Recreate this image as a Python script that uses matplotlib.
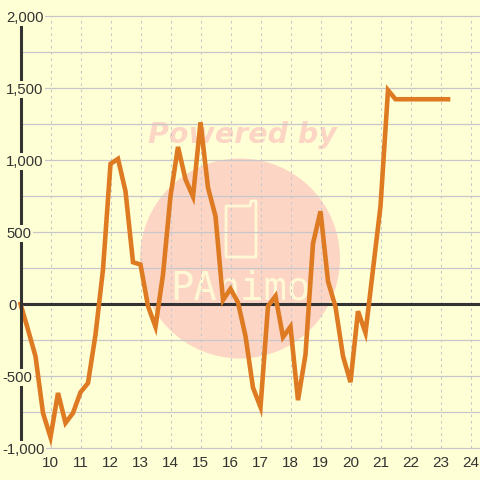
# IMPORTS
import numpy as np
import matplotlib
matplotlib.use('Agg')
import matplotlib.pyplot as plt
from matplotlib.patches import Circle, Polygon
from matplotlib.transforms import blended_transform_factory

# DATA
hours = [9 + 0.25 * i for i in range(58)]
values = [0, -178, -363, -757, -925, -618, -826, -757, -613, -549, -213, 240,
          973, 1008, 783, 290, 274, -15, -158, 205, 749, 1091, 865, 746,
          1262, 808, 610, 27, 105, 10, -223, -581, -716, -15, 55, -230,
          -158, -668, -351, 420, 644, 158, -20, -362, -543, -50, -200, 240,
          679, 1485, 1422, 1422, 1422, 1422, 1422, 1422, 1422, 1422]
x_ticks = list(range(10, 25))
y_major = [-1000, -500, 0, 500, 1000, 1500, 2000]
y_labels = ['-1,000', '-500', '0', '500', '1,000', '1,500', '2,000']
y_label_left = [2, 2, 8, 6, 6, 6, 6]  # px from the left edge
y_minor = [-750, -250, 250, 750, 1250, 1750]

# COLOURS
bg = '#ffffd5'
grid_col = '#c6c6cb'
dark = '#333333'
line_col = '#dd7a22'
wm_col = '#fcd5c5'
wm_light = '#fff8d4'
W = 480


def px(x, y):
    # pixel position in the picture to figure fraction
    return x / W, 1 - y / W


plt.rcParams['font.family'] = ['Liberation Sans', 'DejaVu Sans']
fig = plt.figure(figsize=(4.8, 4.8), dpi=100, facecolor=bg)
ax = fig.add_axes([20.5 / W, 32 / W, (W - 20.5) / W, 432 / W], facecolor=bg)

# Watermark
ft = fig.transFigure
ax.add_patch(Circle(px(240, 258.5), 100 / W, transform=ft, fc=wm_col, ec='none',
                    zorder=0.2, clip_on=False))
ax.text(*px(242, 135), 'Powered by', transform=ft, ha='center', va='center',
        family='DejaVu Sans', weight='bold', style='italic', fontsize=20.5,
        color=wm_col, zorder=0.2)
phone = [px(226, 206), px(250, 206), px(251, 201), px(256, 201), px(256, 257),
         px(226, 257)]
ax.add_patch(Polygon(phone, closed=True, transform=ft, fc='none', ec=wm_light,
                     lw=2, joinstyle='round', zorder=0.3, clip_on=False))
ax.text(*px(240, 289), 'PAnimo', transform=ft, ha='center', va='center',
        family='DejaVu Sans Mono', fontsize=28, color=wm_light, zorder=0.3)

# Grid
ax.set_xlim(9, 9 + (W - 20.5) / 30)
ax.set_ylim(-1000, 2000)
ax.set_axisbelow(True)
ax.set_xticks(x_ticks)
ax.set_yticks(y_major)
ax.set_yticks(y_minor, minor=True)
ax.grid(True, axis='y', which='both', color=grid_col, lw=0.9, clip_on=False)
ax.grid(True, axis='x', color=grid_col, lw=0.75, ls=(0, (2.5, 3.5)))
ax.tick_params(axis='both', which='both', length=0)
ax.tick_params(axis='x', labelsize=11, labelcolor=dark, pad=5.5)
ax.set_yticklabels([])
for s in ['top', 'right', 'bottom']:
    ax.spines[s].set_visible(False)
ax.spines['left'].set_color(dark)
ax.spines['left'].set_linewidth(2.2)

ax.axhline(0, color=dark, lw=2.2, zorder=1.5)
ax.plot(hours, values, color=line_col, lw=3.3, solid_joinstyle='miter',
        solid_capstyle='projecting', zorder=2, clip_on=False)

# y labels sit over the axis line with a background box
tr = blended_transform_factory(ft, ax.transData)
for v, lab, left in zip(y_major, y_labels, y_label_left):
    ax.text(left / W, v, lab, transform=tr, ha='left', va='center_baseline',
            fontsize=10.7, color=dark, zorder=3, clip_on=False,
            bbox=dict(fc=bg, ec='none', pad=1.2))

fig.savefig('out.png', dpi=100, facecolor=bg)
